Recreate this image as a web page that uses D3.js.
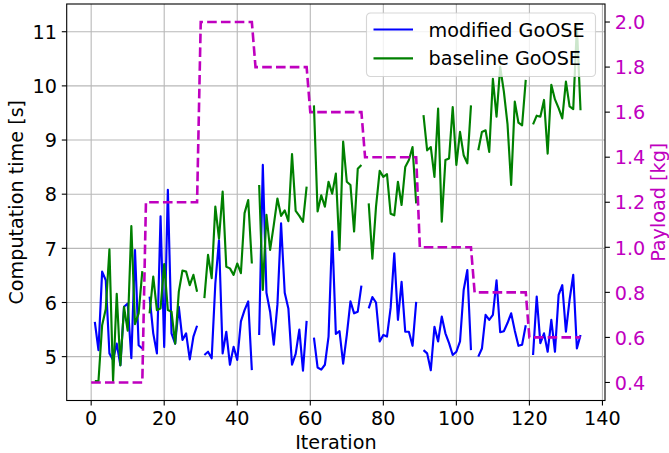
<!DOCTYPE html>
<html>
<head>
<meta charset="utf-8">
<script src="https://cdn.jsdelivr.net/npm/d3@7"></script>
<style>
    body { margin: 0; background: #fff; }
    svg text { font-family: "DejaVu Sans", sans-serif; }
</style>
</head>
<body>
<div id="plot"></div>
<script>

// computation time [s] per iteration (null = no run)
var modifiedGoOSE = [null,
    5.64, 5.12, 6.57, 6.41, 5.06, 4.94, 5.24, 4.84, 5.92, 5.98, 4.97, 6.97, 5.21, 5.15, null,
    6.11, 5.43, 5.06, 7.59, 5.18, 8.08, 5.43, 5.24, 5.92, 5.31, 5.43, 4.95, 5.37, 5.57, null,
    5.03, 5.09, 4.97, 6.35, 7.15, 5.06, 5.46, 4.85, 5.18, 4.94, 5.65, 5.86, 6.02, 4.75, null,
    5.40, 8.54, 6.18, 5.83, 5.22, 5.96, 7.46, 6.18, 5.89, 4.85, 5.05, 5.50, 4.74, 5.66, null,
    5.35, 4.80, 4.76, 4.85, 5.37, 7.31, 5.42, 5.47, 4.87, 5.40, 6.02, 5.80, 5.83, 6.31, null,
    5.89, 6.10, 6.00, 5.28, 5.40, 5.37, 5.90, 6.91, 5.68, 6.38, 5.46, 5.46, 5.20, 6.01, null,
    5.12, 5.06, 4.75, 5.55, 5.28, 5.74, 5.43, 5.25, 5.03, 5.09, 5.28, 6.23, 6.60, 5.12, null,
    5.00, 5.15, 5.77, 5.68, 5.77, 6.41, 5.45, 5.47, 5.62, 5.80, 5.48, 5.20, 5.22, 5.58, null,
    5.03, 6.11, 5.25, 5.43, 5.09, 5.68, 5.09, 6.14, 6.32, 5.46, 6.05, 6.51, 5.15, 5.40
];

var baselineGoOSE = [null,
    4.55, 4.55, 5.58, 5.88, 6.98, 4.55, 6.16, 4.84, 5.92, 5.48, 7.41, 5.60, 5.80, 6.58, null,
    5.80, 6.48, 5.86, 5.89, 6.71, 5.86, 5.83, 5.24, 6.20, 6.59, 6.57, 6.32, 6.51, 6.20, null,
    6.08, 6.88, 6.45, 7.77, 7.18, 8.05, 6.66, 6.63, 6.51, 6.72, 6.54, 7.65, 7.89, 6.72, null,
    8.17, 6.23, 7.62, 6.97, 7.43, 7.92, 7.60, 7.70, 7.50, 8.74, 7.69, 7.60, 7.49, 8.14, null,
    9.64, 7.68, 7.98, 7.77, 8.23, 8.01, 8.38, 6.97, 8.97, 8.23, 8.17, 7.31, 8.47, 8.54, null,
    7.83, 6.81, 7.77, 8.43, 8.32, 8.37, 7.64, 7.61, 8.23, 7.80, 8.50, 8.63, 8.87, 7.83, null,
    9.46, 8.81, 8.87, 8.32, 9.58, 7.49, 8.63, 8.66, 9.61, 8.54, 9.15, 8.72, 8.57, 9.64, null,
    8.81, 9.15, 9.18, 8.78, 10.13, 9.43, 10.35, 9.90, 9.30, 8.17, 9.71, 9.32, 9.27, 10.11, null,
    9.29, 9.45, 9.43, 9.74, 8.75, 10.02, 9.75, 9.59, 9.40, 10.08, 9.62, 9.57, 11.10, 9.55
];

// payload held constant over each block of iterations
var payloadStart = [0, 15, 30, 45, 60, 75, 90, 105, 120];
var payloadEnd   = [14, 29, 44, 59, 74, 89, 104, 119, 134];
var payloadKg    = [0.4, 1.2, 2.0, 1.8, 1.6, 1.4, 1.0, 0.8, 0.6];

var xTicks = [0, 20, 40, 60, 80, 100, 120, 140];
var timeTicks = [5, 6, 7, 8, 9, 10, 11];
var payloadTicks = [0.4, 0.6, 0.8, 1.0, 1.2, 1.4, 1.6, 1.8, 2.0];

var seriesNames = ['modified GoOSE', 'baseline GoOSE'];

window.onload = function(){

    buildChart();

};

function buildChart(){

    var margin = {

        left:66.7,
        top:4,
        right:64,
        bottom:52.5

    };

    var width = 669 - margin.left - margin.right;
    var height = 453 - margin.top - margin.bottom;
    var fs = 19.2;
    var magenta = '#bf00bf';

    var xScale = d3.scaleLinear()
    .domain([-6.7, 140.7])
    .range([0, width]);

    var yScale = d3.scaleLinear()
    .domain([4.19, 11.512])
    .range([height, 0]);

    var y2Scale = d3.scaleLinear()
    .domain([0.32, 2.08])
    .range([height, 0]);

    var svg = d3.select("#plot")
                .append("svg")
                .attr("width", 669)
                .attr("height", 453)
                .append("g")
                .attr("transform", "translate(" + margin.left + "," + margin.top + ")");

    // grid
    svg.append("g")
    .selectAll("line")
    .data(xTicks)
    .enter()
    .append("line")
    .attr("x1", d => xScale(d))
    .attr("x2", d => xScale(d))
    .attr("y1", 0)
    .attr("y2", height)
    .style("stroke", "#b8b8b8")
    .style("stroke-width", 1.1);

    svg.append("g")
    .selectAll("line")
    .data(timeTicks)
    .enter()
    .append("line")
    .attr("x1", 0)
    .attr("x2", width)
    .attr("y1", d => yScale(d))
    .attr("y2", d => yScale(d))
    .style("stroke", "#b8b8b8")
    .style("stroke-width", 1.1);

    var timeData = [modifiedGoOSE, baselineGoOSE];
    var colors = ['#0000ff', '#008000'];

    var line = d3.line()
    .defined(d => d[1] != null)
    .x(d => xScale(d[0]))
    .y(d => yScale(d[1]));

    timeData.forEach((series, k) => {

        svg.append("path")
        .datum(series.map((v, i) => [i, v]))
        .attr("d", line)
        .style("fill", "none")
        .style("stroke", colors[k])
        .style("stroke-width", 2.15)
        .style("stroke-linejoin", "round");

    });

    // payload steps on the right axis
    var payloadPoints = [];

    payloadKg.forEach((kg, k) => {

        payloadPoints.push([payloadStart[k], kg]);
        payloadPoints.push([payloadEnd[k], kg]);

    });

    // legend (left axes, under the twin axes)
    var legend = svg.append("g")
    .attr("transform", "translate(" + (366.5 - margin.left) + "," + (13 - margin.top) + ")");

    legend.append("rect")
    .attr("width", 229)
    .attr("height", 63.5)
    .attr("rx", 4)
    .style("fill", "rgba(255,255,255,0.8)")
    .style("stroke", "rgba(204,204,204,0.8)")
    .style("stroke-width", 1.1);

    seriesNames.forEach((name, k) => {

        var cy = 16.5 + k * 28.8;

        legend.append("line")
        .attr("x1", 7)
        .attr("x2", 46.5)
        .attr("y1", cy)
        .attr("y2", cy)
        .style("stroke", colors[k])
        .style("stroke-width", 2.15);

        legend.append("text")
        .attr("x", 62)
        .attr("y", cy + 7)
        .style("font-size", fs + "px")
        .style("fill", "#000")
        .text(name);

    });

    svg.append("path")
    .datum(payloadPoints)
    .attr("d", d3.line()
        .x(d => xScale(d[0]))
        .y(d => y2Scale(d[1])))
    .style("fill", "none")
    .style("stroke", magenta)
    .style("stroke-width", 2.6)
    .style("stroke-dasharray", "9.6,4.2");

    // spines
    svg.append("rect")
    .attr("width", width)
    .attr("height", height)
    .style("fill", "none")
    .style("stroke", "#000")
    .style("stroke-width", 1.1);

    // x axis
    var xAxis = svg.append("g");

    xAxis.selectAll("line")
    .data(xTicks)
    .enter()
    .append("line")
    .attr("x1", d => xScale(d))
    .attr("x2", d => xScale(d))
    .attr("y1", height)
    .attr("y2", height + 4.9)
    .style("stroke", "#000")
    .style("stroke-width", 1.1);

    xAxis.selectAll("text")
    .data(xTicks)
    .enter()
    .append("text")
    .attr("x", d => xScale(d))
    .attr("y", height + 24.5)
    .attr("text-anchor", "middle")
    .style("font-size", fs + "px")
    .text(d => d);

    svg.append("text")
    .attr("x", width / 2)
    .attr("y", height + 48)
    .attr("text-anchor", "middle")
    .style("font-size", fs + "px")
    .text("Iteration");

    // left axis
    var yAxis = svg.append("g");

    yAxis.selectAll("line")
    .data(timeTicks)
    .enter()
    .append("line")
    .attr("x1", -4.9)
    .attr("x2", 0)
    .attr("y1", d => yScale(d))
    .attr("y2", d => yScale(d))
    .style("stroke", "#000")
    .style("stroke-width", 1.1);

    yAxis.selectAll("text")
    .data(timeTicks)
    .enter()
    .append("text")
    .attr("x", -9.8)
    .attr("y", d => yScale(d) + 7.2)
    .attr("text-anchor", "end")
    .style("font-size", fs + "px")
    .text(d => d);

    svg.append("text")
    .attr("transform", "translate(" + (22.6 - margin.left) + "," + (height / 2) + ") rotate(-90)")
    .attr("text-anchor", "middle")
    .style("font-size", fs + "px")
    .text("Computation time [s]");

    // right axis
    var y2Axis = svg.append("g")
    .attr("transform", "translate(" + width + ",0)");

    y2Axis.selectAll("line")
    .data(payloadTicks)
    .enter()
    .append("line")
    .attr("x1", 0)
    .attr("x2", 4.9)
    .attr("y1", d => y2Scale(d))
    .attr("y2", d => y2Scale(d))
    .style("stroke", "#000")
    .style("stroke-width", 1.1);

    y2Axis.selectAll("text")
    .data(payloadTicks)
    .enter()
    .append("text")
    .attr("x", 9.8)
    .attr("y", d => y2Scale(d) + 7.2)
    .style("font-size", fs + "px")
    .style("fill", magenta)
    .text(d => d3.format(".1f")(d));

    svg.append("text")
    .attr("transform", "translate(" + (664.5 - margin.left) + "," + (height / 2) + ") rotate(-90)")
    .attr("text-anchor", "middle")
    .style("font-size", fs + "px")
    .style("fill", magenta)
    .text("Payload [kg]");

}

</script>
</body>
</html>
